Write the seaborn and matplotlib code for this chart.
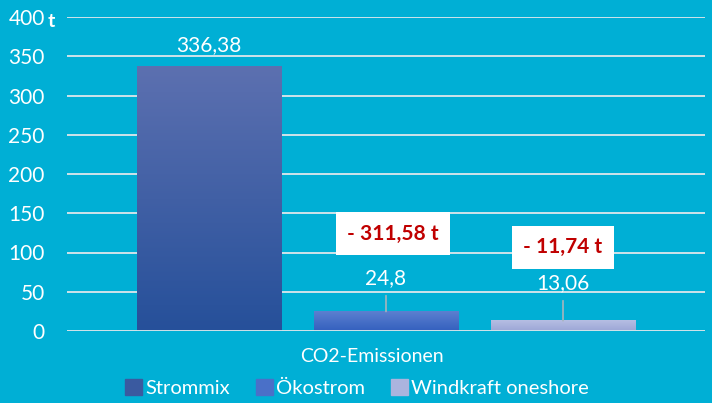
import matplotlib.pyplot as plt
import matplotlib.colors as mcolors
import matplotlib.transforms as mtransforms
import numpy as np
import pandas as pd
import seaborn as sns

# Data
category = 'CO2-Emissionen'
series = ['Strommix', 'Ökostrom', 'Windkraft oneshore']
values = [336.38, 24.8, 13.06]
savings = ['- 311,58 t', '- 11,74 t']   # shown above Ökostrom / Windkraft
y_ticks = [0, 50, 100, 150, 200, 250, 300, 350, 400]

bg = '#00AFD5'
bar_top = ['#5C70B0', '#5C80D0', '#B6BEE3']
bar_bottom = ['#26509A', '#3460BE', '#9CA6D6']
legend_cols = ['#3A5AA0', '#4A70C8', '#ABB4DE']

df = pd.DataFrame({'cat': [category] * 3, 'series': series, 'value': values})

sns.set_style('white')
plt.rcParams['font.family'] = ['Lato', 'DejaVu Sans']

fig = plt.figure(figsize=(7.12, 4.03), dpi=100, facecolor=bg)
ax = fig.add_axes([67 / 712, 1 - 331 / 403, 638 / 712, 314 / 403])
ax.set_facecolor(bg)

sns.barplot(data=df, x='cat', y='value', hue='series', hue_order=series,
            palette=legend_cols, gap=0.186, width=0.8, ax=ax, legend=False,
            zorder=3)

# gradient fill for each bar
for p, c0, c1 in zip(ax.patches, bar_bottom, bar_top):
    x0, y0, x1, y1 = p.get_bbox().extents
    cmap = mcolors.LinearSegmentedColormap.from_list('g', [c0, c1])
    grad = np.linspace(0, 1, 100).reshape(-1, 1)
    ax.imshow(grad, extent=[x0, x1, y0, y1], origin='lower', aspect='auto',
              cmap=cmap, zorder=3)
    p.set_visible(False)

ax.set_xlim(-0.4806, 0.4806)
ax.set_ylim(0, 400)
ax.set_yticks(y_ticks)
ax.set_yticklabels([str(t) for t in y_ticks])
ax.tick_params(axis='y', length=0, pad=16, labelsize=15, labelcolor='white')
ax.tick_params(axis='x', length=0, pad=12, labelsize=14, labelcolor='white')
shift = mtransforms.ScaledTranslation(-14 / 100, 0, fig.dpi_scale_trans)
for lab in ax.get_xticklabels():
    lab.set_transform(lab.get_transform() + shift)
ax.set_xlabel('')
ax.set_ylabel('')
ax.grid(axis='y', color='#CFE3EA', linewidth=1.4, zorder=0)
ax.set_axisbelow(True)
ax.axhline(0, color='#CFE3EA', linewidth=1.4, zorder=4)
for s in ax.spines.values():
    s.set_visible(False)

# unit
ax.annotate('t', xy=(0, 400), xycoords=('axes fraction', 'data'),
            xytext=(-11, -3), textcoords='offset points', ha='center',
            va='center', color='white', fontsize=14, fontweight='bold')

# value labels
bars = [p for p in ax.patches]
offsets = [16, 24, 27]
for p, v, off in zip(bars, values, offsets):
    x = p.get_x() + p.get_width() / 2
    label = f'{v:g}'.replace('.', ',')
    if v == values[0]:
        label = f'{v:.2f}'.replace('.', ',')
        ax.annotate(label, xy=(x, v), xytext=(0, off), textcoords='offset points',
                    ha='center', va='center', color='white', fontsize=15)
    else:
        ax.annotate(label, xy=(x, v), xytext=(0, off), textcoords='offset points',
                    ha='center', va='center', color='white', fontsize=15,
                    arrowprops=dict(arrowstyle='-', color='#A8B4BC', lw=1.2,
                                    shrinkA=3, shrinkB=0))

# savings callouts
box_offsets = [(5, 56), (0, 53)]
for p, txt, (dx, dy) in zip(bars[1:], savings, box_offsets):
    x = p.get_x() + p.get_width() / 2
    ax.annotate(txt, xy=(x, p.get_height()), xytext=(dx, dy),
                textcoords='offset points', ha='center', va='center',
                color='#C00000', fontsize=15, fontweight='bold', zorder=6,
                bbox=dict(boxstyle='square,pad=0.55', fc='white', ec='none'))

# legend
handles = [plt.Rectangle((0, 0), 1, 1, color=c) for c in legend_cols]
fig.legend(handles, series, loc='center', bbox_to_anchor=(357 / 712, 1 - 388 / 403),
           ncol=3, frameon=False, fontsize=14.5, labelcolor='white',
           handlelength=0.85, handleheight=0.85, handletextpad=0.15,
           columnspacing=1.3, borderpad=0)

fig.savefig('out.png', dpi=100, facecolor=bg)
